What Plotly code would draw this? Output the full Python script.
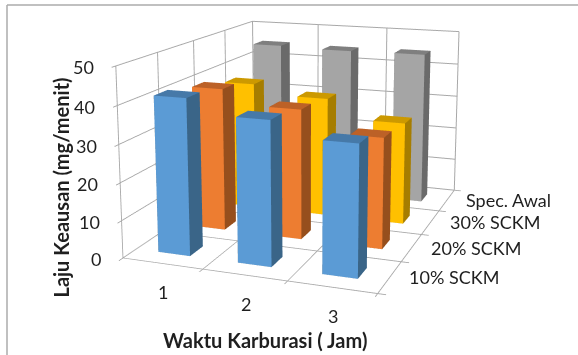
import plotly.graph_objects as go

# Carburizing wear-rate data: one list per specimen group, one value per carburizing time
hours = ["1", "2", "3"]
groups = ["10% SCKM", "20% SCKM", "30% SCKM", "Spec. Awal"]
sckm_10 = [41.6, 37.8, 33.9]
sckm_20 = [39.7, 35.8, 30.1]
sckm_30 = [37.0, 34.3, 29.0]
spec_awal = [45.0, 44.6, 44.8]
z_ticks = [0, 10, 20, 30, 40, 50]

series_values = [sckm_10, sckm_20, sckm_30, spec_awal]
# front, top and side shades of each column
palette = [
    ("#5B9BD5", "#4679A8", "#3A6588"),
    ("#ED7D31", "#BC6127", "#964F1D"),
    ("#FFC000", "#CC9900", "#A67D00"),
    ("#A5A5A5", "#7F7F7F", "#6A6A6A"),
]

# Plot area is larger than the page and offset so that the long lens view lands in the window
W, H = 1200, 848
LEFT, TOP = -294, -338
PAGE_W, PAGE_H = 578, 355


def px(x):
    return (x - LEFT) / W


def py(y):
    return 1 - (y - TOP) / H


def column(x0, x1, y0, y1, z1, colors):
    xs = [x0, x1, x1, x0, x0, x1, x1, x0]
    ys = [y0, y0, y1, y1, y0, y0, y1, y1]
    zs = [0, 0, 0, 0, z1, z1, z1, z1]
    faces = [
        (0, 1, 5, "f"), (0, 5, 4, "f"),
        (4, 5, 6, "t"), (4, 6, 7, "t"),
        (1, 2, 6, "s"), (1, 6, 5, "s"),
        (3, 0, 4, "s"), (3, 4, 7, "s"),
        (2, 3, 7, "s"), (2, 7, 6, "s"),
        (0, 2, 1, "s"), (0, 3, 2, "s"),
    ]
    shade = {"f": colors[0], "t": colors[1], "s": colors[2]}
    return xs, ys, zs, [f[0] for f in faces], [f[1] for f in faces], [f[2] for f in faces], [shade[f[3]] for f in faces]


fig = go.Figure()
for s, (name, vals, colors) in enumerate(zip(groups, series_values, palette)):
    for c, v in enumerate(vals):
        xs, ys, zs, i, j, k, fc = column(c + 0.285, c + 0.69, s + 0.325, s + 0.675, v, colors)
        fig.add_trace(go.Mesh3d(
            x=xs, y=ys, z=zs, i=i, j=j, k=k, facecolor=fc, flatshading=True, name=name,
            lighting=dict(ambient=1, diffuse=0, specular=0, roughness=1, fresnel=0),
            hoverinfo="skip", showscale=False,
        ))

TEXT = "#1F1F1F"
tick_font = dict(family="Lato", size=18, color=TEXT)
scene_notes = []
for z in z_ticks:
    scene_notes.append(dict(x=0, y=0, z=z, text=str(z), showarrow=False, xanchor="right",
                            xshift=-20, yshift=-1, font=tick_font))
for c, label in enumerate(hours):
    scene_notes.append(dict(x=c + 0.5, y=0, z=0, text=label, showarrow=False,
                            xshift=1, yshift=-29, font=tick_font))
for s, label in enumerate(groups):
    scene_notes.append(dict(x=3, y=s + 0.5, z=0, text=label, showarrow=False, xanchor="left",
                            xshift=17, yshift=0, font=tick_font))

grid = "#A8A8A8"


def axis(rng, vals):
    return dict(range=rng, tickmode="array", tickvals=vals, ticktext=[""] * len(vals), showticklabels=False,
                title=dict(text=""), showbackground=False, showgrid=True, gridcolor=grid, gridwidth=2,
                zeroline=False, showline=False, showspikes=False, ticks="outside", ticklen=6,
                tickcolor=grid, tickwidth=2)


title_font = dict(family="Lato", size=20, color=TEXT)
fig.update_layout(
    width=W, height=H, autosize=False,
    margin=dict(l=0, r=0, t=0, b=0),
    paper_bgcolor="white",
    showlegend=False,
    scene=dict(
        domain=dict(x=[0, 1], y=[0, 1]),
        xaxis=axis([0, 3], [0, 1, 2, 3]),
        yaxis=axis([0, 4], [0, 1, 2, 3, 4]),
        zaxis=axis([0, 50], z_ticks),
        aspectmode="manual",
        aspectratio=dict(x=1, y=1.2814, z=0.7382),
        camera=dict(
            eye=dict(x=1.3999, y=-3.8551, z=1.031),
            center=dict(x=-0.051, y=0.1537, z=0.1753),
            up=dict(x=0.0055, y=0.002, z=1),
            projection=dict(type="perspective"),
        ),
        annotations=scene_notes,
    ),
    annotations=[
        dict(xref="paper", yref="paper", x=px(264.5), y=py(340), xanchor="center", yanchor="middle",
             text="<b>Waktu Karburasi ( Jam)</b>", showarrow=False, font=title_font),
        dict(xref="paper", yref="paper", x=px(60), y=py(187.5), xanchor="center", yanchor="middle",
             text="<b>Laju Keausan (mg/menit)</b>", textangle=-90, showarrow=False, font=title_font),
    ],
    shapes=[
        dict(type="line", xref="paper", yref="paper", x0=px(7), x1=px(7), y0=py(5), y1=py(PAGE_H),
             line=dict(color="#ABABAB", width=1.5)),
        dict(type="line", xref="paper", yref="paper", x0=px(7), x1=px(PAGE_W), y0=py(5), y1=py(5),
             line=dict(color="#ABABAB", width=1.5)),
    ],
)

place = (
    "var gd=document.getElementById('{plot_id}');"
    "gd.style.position='fixed';gd.style.left='%dpx';gd.style.top='%dpx';"
    "document.documentElement.style.overflow='hidden';document.body.style.overflow='hidden';" % (LEFT, TOP)
)
fig.write_html("out.html", config=dict(displayModeBar=False), post_script=place)
